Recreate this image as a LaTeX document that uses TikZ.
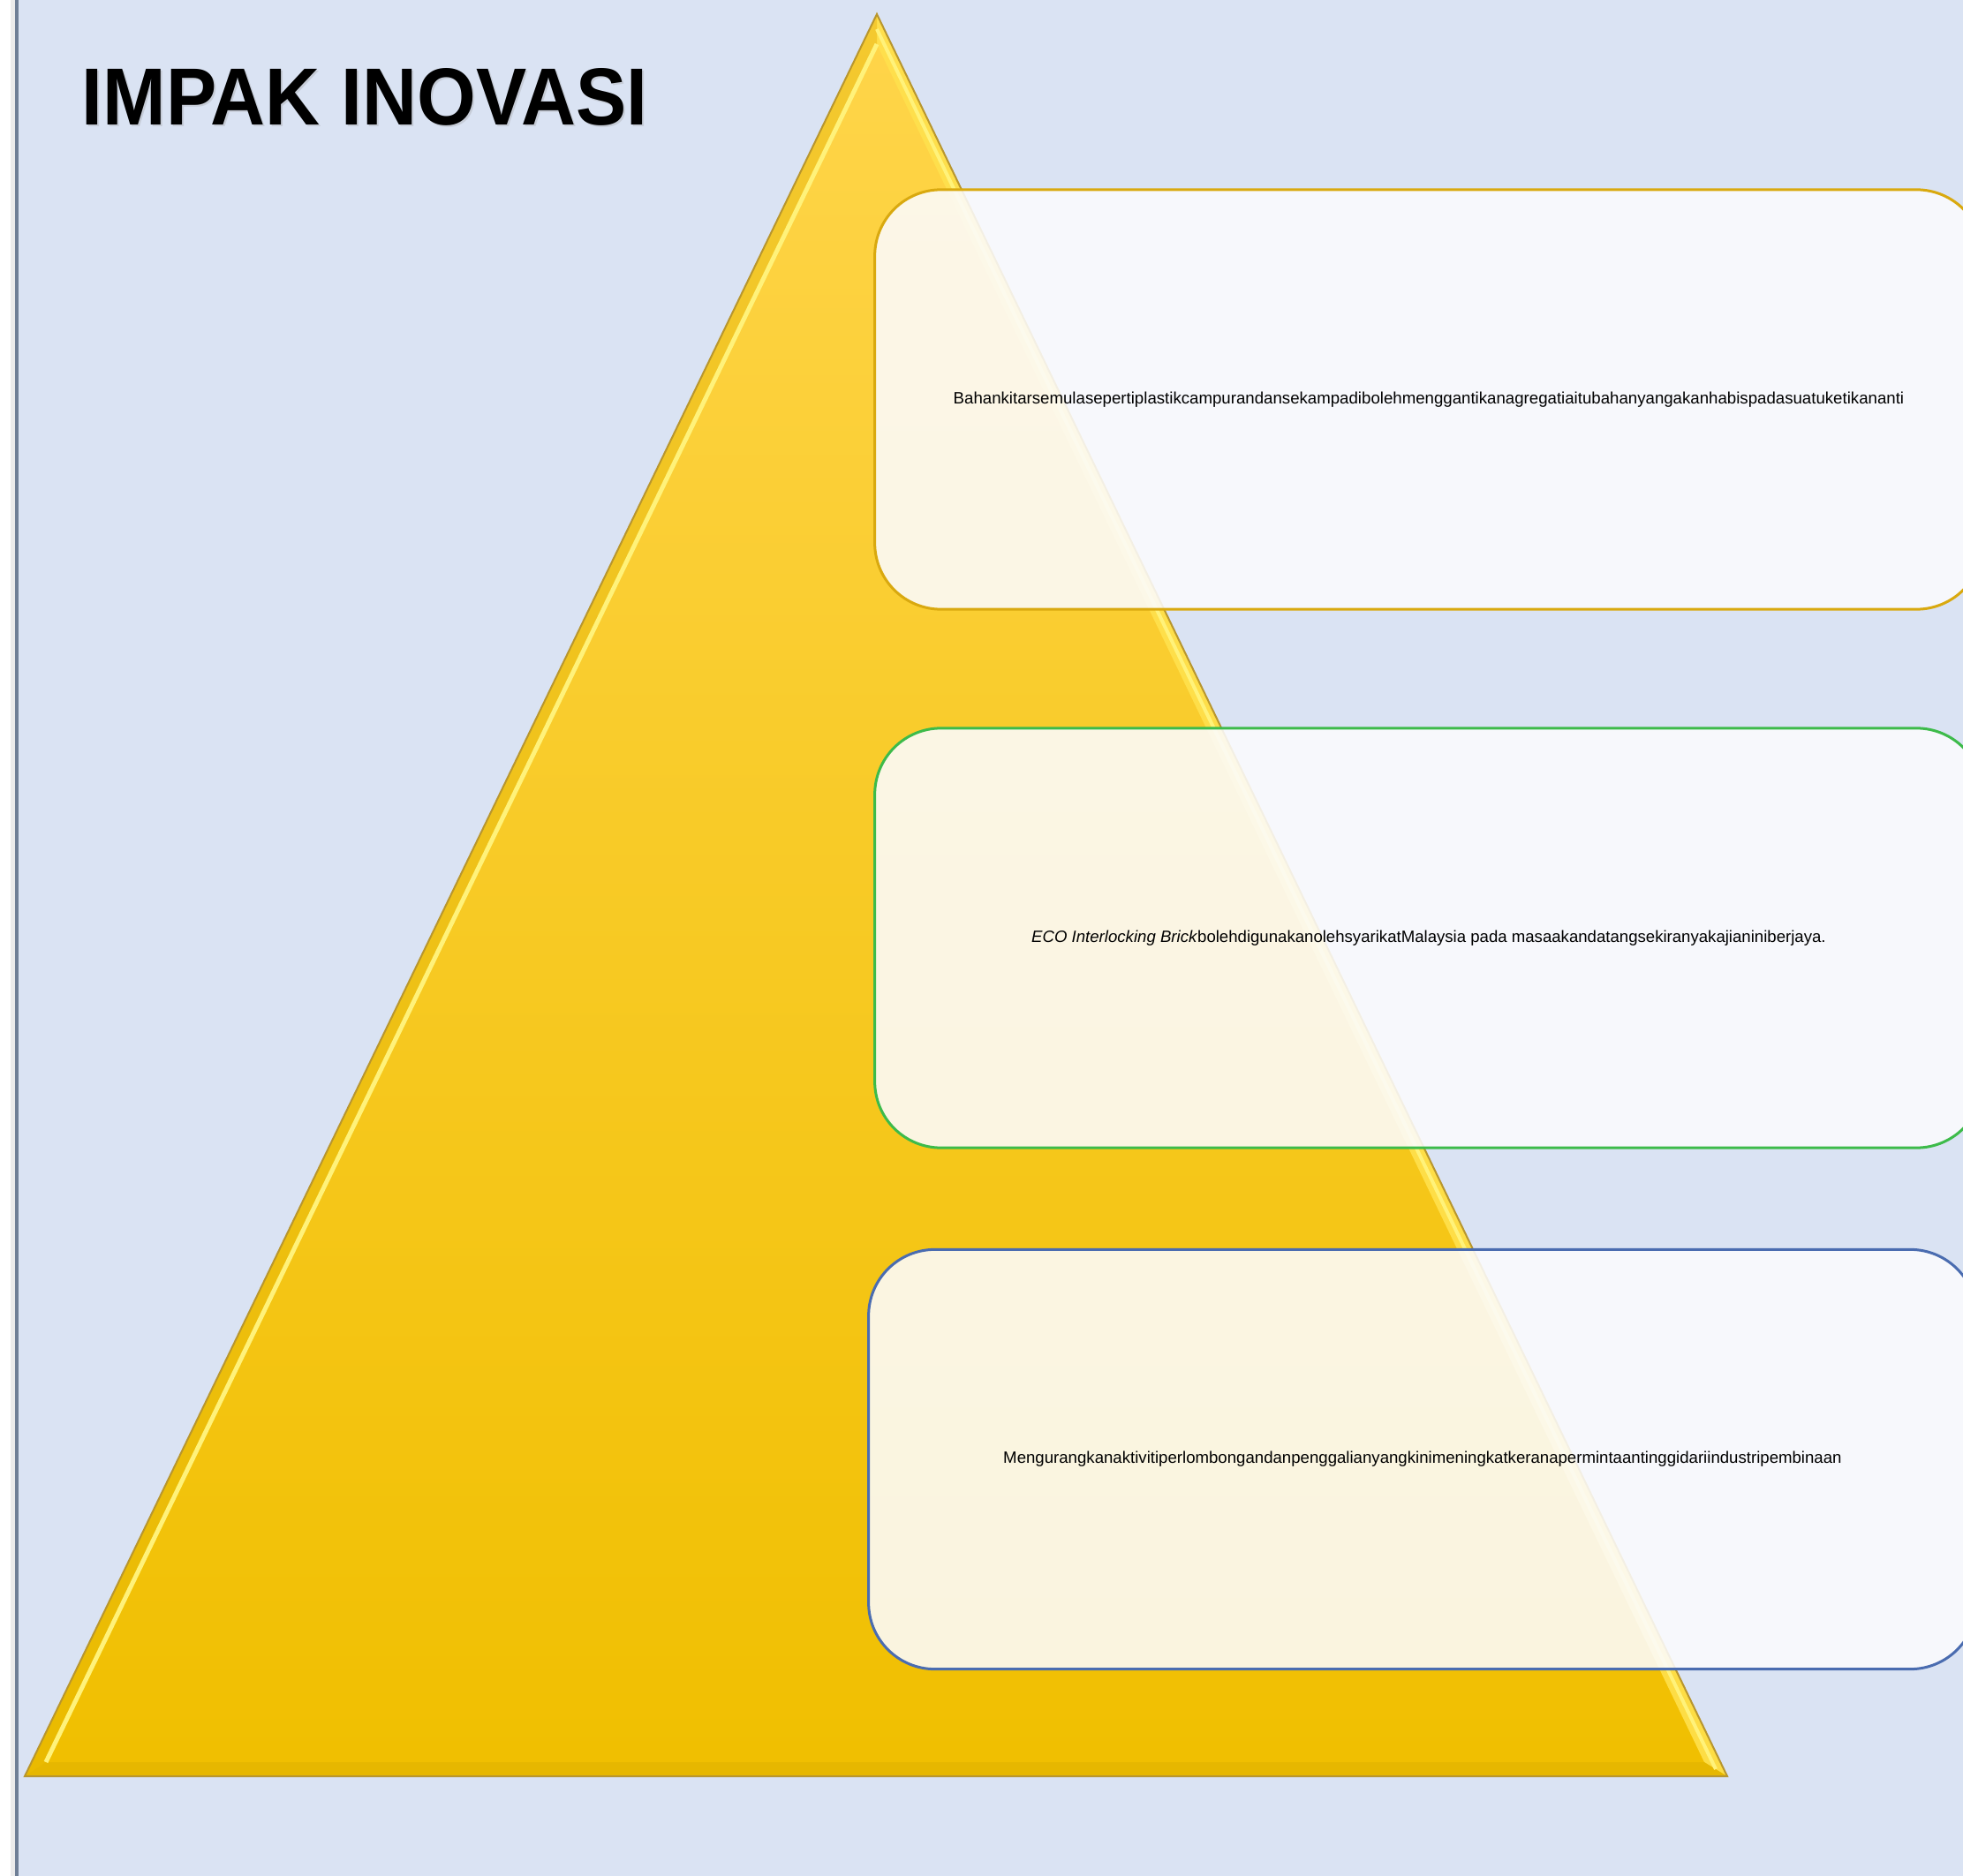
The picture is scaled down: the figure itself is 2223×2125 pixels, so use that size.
\documentclass[tikz,border=0pt]{standalone}
\usepackage{fontspec}
\setmainfont{Liberation Sans}
\usetikzlibrary{calc}
\definecolor{bg}{HTML}{DAE3F3}
\definecolor{edgegray}{HTML}{6F7F96}
\definecolor{tritop}{HTML}{FFD54A}
\definecolor{trimid}{HTML}{FFD300}
\definecolor{tribot}{HTML}{F0BF00}
\definecolor{triedge}{HTML}{B8962E}
\definecolor{trilight}{HTML}{FFF27A}
\definecolor{triband}{HTML}{FFE14D}
\definecolor{tridark}{HTML}{E0B300}
\definecolor{boxfill}{HTML}{FCFCFE}
\definecolor{goldline}{HTML}{D9A90F}
\definecolor{greenline}{HTML}{3DBB4A}
\definecolor{blueline}{HTML}{4A6CB0}
\tikzset{
  infobox/.style={rounded corners=0.75cm, fill=boxfill, fill opacity=0.88, text opacity=1,
    line width=0.03cm, minimum width=12.54cm, minimum height=4.75cm, inner sep=0pt,
    align=center, text=black},
  titletext/.style={anchor=base west, inner sep=0pt}
}
\begin{document}
\begin{tikzpicture}[x=0.01cm,y=-0.01cm]
\useasboundingbox (0,0) rectangle (2223,2125);
\clip (0,0) rectangle (2223,2125);
\fill[white] (0,0) rectangle (2223,2125);
\fill[bg] (18,0) rectangle (2223,2125);
\fill[black, opacity=0.08] (12,0) rectangle (18,2125);
\draw[edgegray, line width=0.03cm] (19,0) -- (19,2125);

% triangle
\coordinate (apex) at (993,16);
\coordinate (bl) at (28,2012);
\coordinate (br) at (1956,2012);
\coordinate (apexin) at (993,50);
\coordinate (blin) at (52,1996);
\coordinate (brin) at (1930,1996);
\shade[top color=tritop, middle color=trimid, bottom color=tribot] (apex) -- (br) -- (bl) -- cycle;
\fill[triband, opacity=0.9] (apex) -- (br) -- (brin) -- (apexin) -- cycle;
\fill[tridark, opacity=0.35] (apex) -- (bl) -- (blin) -- (apexin) -- cycle;
\fill[tridark, opacity=0.6] (bl) -- (br) -- (brin) -- (blin) -- cycle;
\draw[trilight, line width=0.05cm] (apexin) -- (blin);
\draw[trilight, line width=0.04cm] ($(apex)!0.5!(apexin)$) -- ($(br)!0.5!(brin)$);
\draw[triedge, line width=0.02cm, line join=miter] (apex) -- (br) -- (bl) -- cycle;

% title
\node[titletext, text=black!40, opacity=0.3] (titleshadow) at (94,144) {\resizebox{6.4cm}{0.64cm}{\bfseries IMPAK INOVASI}};
\node[titletext] (title) at (92,142) {\resizebox{6.4cm}{0.64cm}{\bfseries IMPAK INOVASI}};

% boxes
\node[infobox, draw=goldline] (b1) at (1618,452.5) {\resizebox{10.76cm}{!}{Bahankitarsemulasepertiplastikcampurandansekampadibolehmenggantikanagregatiaitubahanyangakanhabispadasuatuketikananti}};
\node[infobox, draw=greenline] (b2) at (1618,1062.5) {\resizebox{8.99cm}{!}{\textit{ECO Interlocking Brick}bolehdigunakanolehsyarikatMalaysia pada masaakandatangsekiranyakajianiniberjaya.}};
\node[infobox, draw=blueline] (b3) at (1611,1653) {\resizebox{9.49cm}{!}{Mengurangkanaktivitiperlombongandanpenggalianyangkinimeningkatkeranapermintaantinggidariindustripembinaan}};
\end{tikzpicture}
\end{document}
